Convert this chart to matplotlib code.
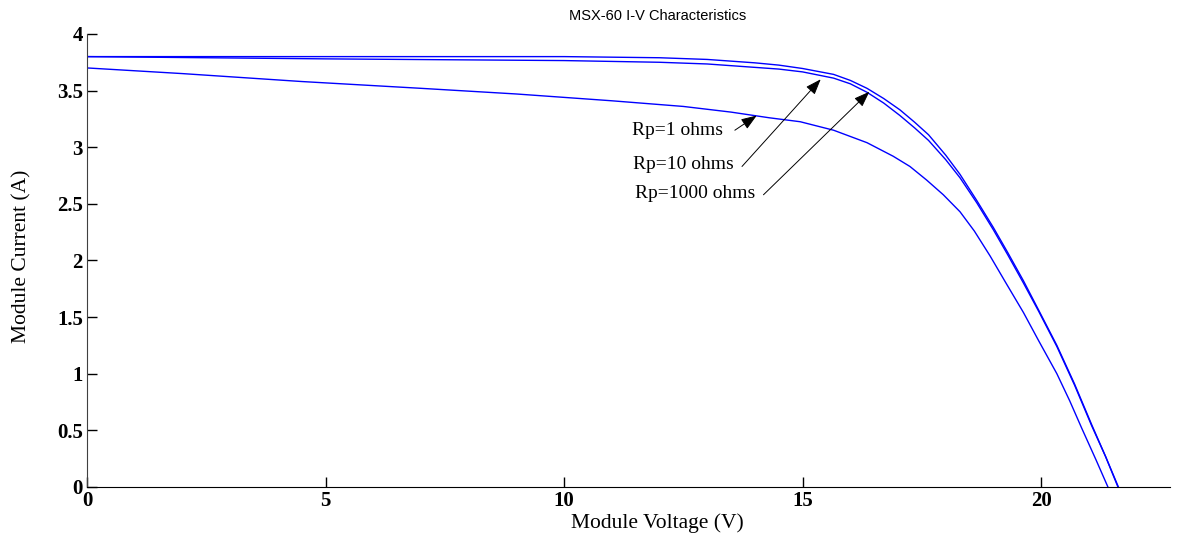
import matplotlib
matplotlib.use('Agg')
import matplotlib.pyplot as plt

# MSX-60 I-V curves
v_rp1000 = [0, 5, 10, 12, 13, 14, 14.5, 15, 15.65, 16, 16.35, 16.7, 17.04, 17.35, 17.64, 18.0,
            18.3, 18.65, 19.0, 19.3, 19.63, 19.95, 20.33, 20.7, 21.06, 21.35, 21.62]
i_rp1000 = [3.80, 3.80, 3.80, 3.79, 3.775, 3.745, 3.725, 3.695, 3.643, 3.59, 3.52, 3.43, 3.33, 3.22, 3.11, 2.93,
            2.76, 2.53, 2.29, 2.07, 1.82, 1.56, 1.25, 0.91, 0.55, 0.27, 0.0]

v_rp10 = [0, 2.5, 5, 10, 12, 13, 14, 14.5, 15, 15.65, 16, 16.35, 16.7, 17.04, 17.35, 17.64, 18.0,
          18.3, 18.65, 19.0, 19.3, 19.63, 19.95, 20.33, 20.7, 21.06, 21.35, 21.61]
i_rp10 = [3.80, 3.79, 3.78, 3.765, 3.75, 3.735, 3.705, 3.69, 3.665, 3.61, 3.56, 3.485, 3.39, 3.28, 3.17, 3.06, 2.89,
          2.73, 2.51, 2.27, 2.05, 1.80, 1.55, 1.24, 0.90, 0.54, 0.27, 0.0]

v_rp1 = [0, 2, 4.5, 7, 9, 11, 12.5, 13.5, 14.3, 14.95, 15.65, 16.35, 16.9, 17.25, 17.6, 17.95,
         18.3, 18.6, 18.93, 19.25, 19.63, 19.95, 20.33, 20.6, 20.85, 21.15, 21.40]
i_rp1 = [3.70, 3.65, 3.58, 3.52, 3.47, 3.41, 3.36, 3.31, 3.26, 3.225, 3.15, 3.04, 2.92, 2.83, 2.71, 2.58,
         2.43, 2.26, 2.04, 1.81, 1.54, 1.29, 1.00, 0.76, 0.52, 0.24, 0.0]

labels = ['Rp=1 ohms', 'Rp=10 ohms', 'Rp=1000 ohms']
label_xy = [(11.43, 3.145), (11.45, 2.85), (11.49, 2.595)]
arrow_from = [(13.58, 3.15), (13.73, 2.83), (14.18, 2.58)]
arrow_to = [(14.04, 3.28), (15.38, 3.60), (16.40, 3.49)]

serif = 'Liberation Serif'

fig = plt.figure(figsize=(11.77, 5.39), dpi=100)
ax = fig.add_axes([0.0739, 0.0965, 0.9201, 0.8405])

ax.plot(v_rp1000, i_rp1000, color='#0000ff', lw=1.0)
ax.plot(v_rp10, i_rp10, color='#0000ff', lw=1.0)
ax.plot(v_rp1, i_rp1, color='#0000ff', lw=1.0)

for lab, xy, a0, a1 in zip(labels, label_xy, arrow_from, arrow_to):
    ax.text(xy[0], xy[1], lab, family=serif, fontsize=14, ha='left', va='center')
    ax.annotate('', xy=a1, xytext=a0,
                arrowprops=dict(arrowstyle='-|>,head_length=0.6,head_width=0.22',
                                color='black', lw=0.7,
                                mutation_scale=16, shrinkA=0, shrinkB=0))

ax.set_xlim(0, 22.7)
ax.set_ylim(0, 4)
ax.set_xticks([0, 5, 10, 15, 20])
ax.set_yticks([0, 0.5, 1, 1.5, 2, 2.5, 3, 3.5, 4])
ax.set_yticklabels(['0', '0.5', '1', '1.5', '2', '2.5', '3', '3.5', '4'])
for s in ['top', 'right']:
    ax.spines[s].set_visible(False)
ax.spines['left'].set_color('#404040')
ax.tick_params(direction='in', length=7, width=1, pad=3)
for t in ax.get_xticklabels() + ax.get_yticklabels():
    t.set_family(serif)
    t.set_fontweight('bold')
    t.set_fontsize(15)

ax.set_xlabel('Module Voltage (V)', family=serif, fontsize=15.5)
ax.set_ylabel('Module Current (A)', family=serif, fontsize=15.5)
ax.xaxis.set_label_coords(0.527, -0.058)
ax.yaxis.set_label_coords(-0.051, 0.51)
fig.text(0.559, 0.971, 'MSX-60 I-V Characteristics', family='Liberation Sans',
         fontsize=10.5, ha='center', va='center')

plt.savefig('out.png', dpi=100)
